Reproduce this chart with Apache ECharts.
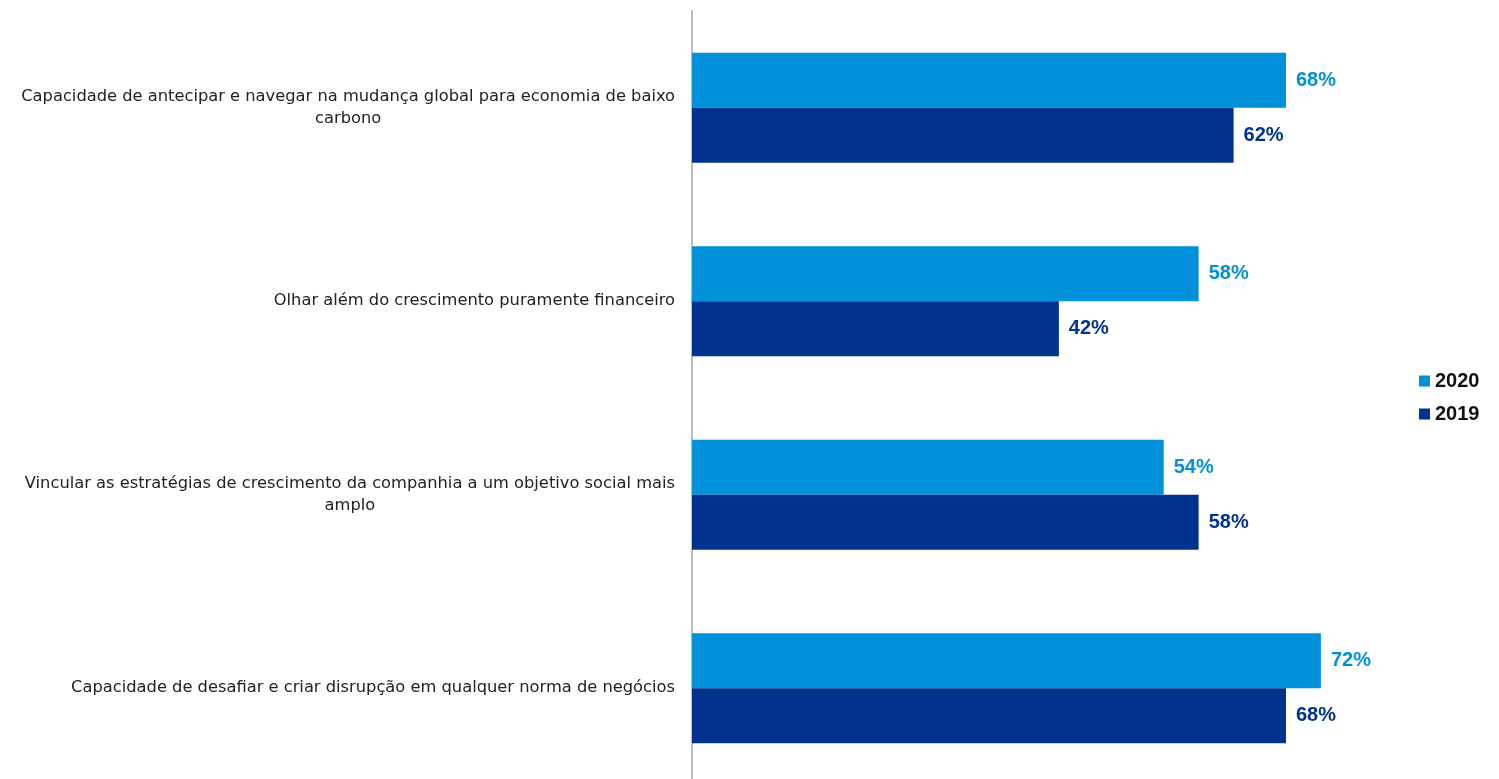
<!DOCTYPE html>
<html>
<head>
<meta charset="utf-8">
<script src="https://cdn.jsdelivr.net/npm/echarts@6/dist/echarts.min.js"></script>
<style>html,body{margin:0;padding:0;background:#fff;}#main{width:1499px;height:779px;}</style>
</head>
<body>
<div id="main"></div>
<script>
var categories = [
  'Capacidade de antecipar e navegar na mudança global para economia de baixo\ncarbono',
  'Olhar além do crescimento puramente financeiro',
  'Vincular as estratégias de crescimento da companhia a um objetivo social mais\namplo',
  'Capacidade de desafiar e criar disrupção em qualquer norma de negócios'
];
var seriesNames = ['2020', '2019'];
var values2020 = [68, 58, 54, 72];
var values2019 = [62, 42, 58, 68];
var colors = ['#0091DA', '#00338D'];

var chart = echarts.init(document.getElementById('main'), null, {renderer: 'canvas'});
function barSeries(name, data, color) {
  return {
    name: name,
    type: 'bar',
    data: data,
    barWidth: 55,
    barGap: '0%',
    itemStyle: {color: color},
    label: {
      show: true,
      position: 'right',
      distance: 10,
      formatter: '{c}%',
      color: color,
      fontFamily: 'Liberation Sans, Arial, sans-serif',
      fontWeight: 'bold',
      fontSize: 20
    }
  };
}
chart.setOption({
  animation: false,
  backgroundColor: '#fff',
  grid: {left: 692, top: 11, width: 698.8, height: 774, outerBoundsMode: 'none', containLabel: false},
  legend: {
    orient: 'vertical',
    left: 1414,
    top: 366,
    itemWidth: 11,
    itemHeight: 11,
    itemGap: 13,
    icon: 'rect',
    data: seriesNames,
    textStyle: {fontFamily: 'Liberation Sans, Arial, sans-serif', fontWeight: 'bold', fontSize: 20, color: '#111'}
  },
  xAxis: {type: 'value', min: 0, max: 80, show: false},
  yAxis: {
    type: 'category',
    inverse: true,
    data: categories,
    axisLine: {show: true, lineStyle: {color: '#bdbdbd', width: 2}},
    axisTick: {show: false},
    axisLabel: {
      margin: 17,
      align: 'right',
      formatter: function (v) {
        return v.split('\n').map(function (s) { return '{c|' + s + '}'; }).join('\n');
      },
      rich: {
        c: {align: 'center', fontFamily: 'DejaVu Sans, sans-serif', fontSize: 16.3, color: '#222', lineHeight: 22}
      }
    }
  },
  series: [
    barSeries(seriesNames[0], values2020, colors[0]),
    barSeries(seriesNames[1], values2019, colors[1])
  ]
});
</script>
</body>
</html>
